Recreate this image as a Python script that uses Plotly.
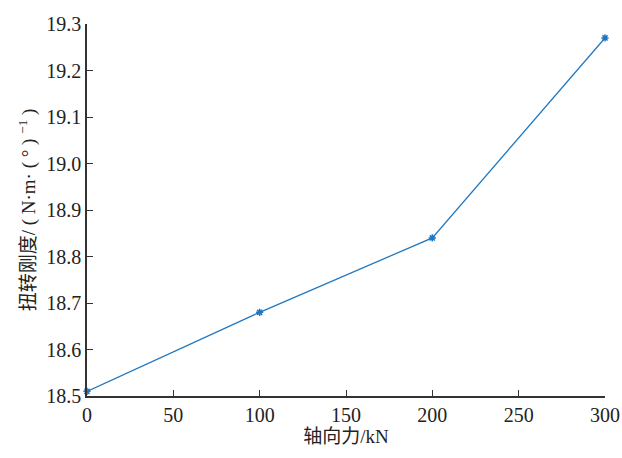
import plotly.graph_objects as go

axial_force = [0, 100, 200, 300]
stiffness = [18.51, 18.68, 18.84, 19.27]
x_ticks = [0, 50, 100, 150, 200, 250, 300]
y_ticks = [18.5, 18.6, 18.7, 18.8, 18.9, 19.0, 19.1, 19.2, 19.3]

serif = "'Liberation Serif', 'Times New Roman', serif"
cjk = "'Liberation Serif', 'Noto Sans CJK SC', serif"

y_title = "扭转刚度/ ( N·m· ( ° ) <sup>−1</sup> )"
x_title = "轴向力/kN"

fig = go.Figure()
fig.add_trace(go.Scatter(
    x=axial_force, y=stiffness, mode="lines+markers",
    line=dict(color="#1f77c0", width=1.3),
    marker=dict(symbol="asterisk-open", size=6, color="#1f77c0",
                line=dict(color="#1f77c0", width=1.5)),
    cliponaxis=False, showlegend=False,
))

fig.update_layout(
    width=622, height=458,
    margin=dict(l=87, r=17, t=24, b=62),
    plot_bgcolor="white", paper_bgcolor="white",
    font=dict(family=serif, size=20, color="#222"),
)
fig.update_xaxes(
    range=[0, 300], tickvals=x_ticks, ticktext=[str(v) for v in x_ticks],
    automargin=False,
    showgrid=False, zeroline=False, showline=True, linecolor="#333", linewidth=1.5,
    ticks="inside", ticklen=6, tickcolor="#333", tickwidth=1.2,
    tickfont=dict(family=serif, size=20),
    title=dict(text=x_title, font=dict(family=cjk, size=19), standoff=4),
)
fig.update_yaxes(
    range=[18.5, 19.3], tickvals=y_ticks, ticktext=[f"{v:.1f}" for v in y_ticks],
    automargin=False,
    showgrid=False, zeroline=False, showline=True, linecolor="#333", linewidth=1.5,
    ticks="inside", ticklen=6, tickcolor="#333", tickwidth=1.2,
    tickfont=dict(family=serif, size=20),
    title=dict(text=y_title, font=dict(family=cjk, size=19), standoff=6),
)

fig.write_html("out.html")
